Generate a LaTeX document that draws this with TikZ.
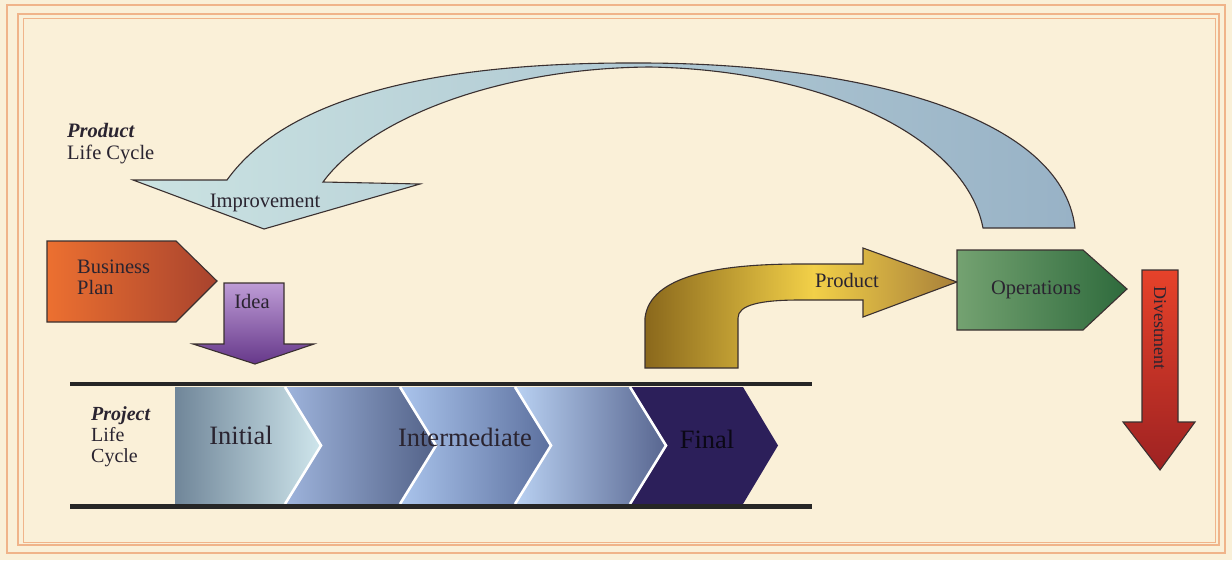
\documentclass[tikz,border=0pt]{standalone}
\usepackage{fontspec}
\setmainfont{Liberation Serif}
\definecolor{bgc}{HTML}{FAF0D8}
\definecolor{framec}{HTML}{F0B48A}
\definecolor{outl}{HTML}{3A3030}
\definecolor{txt}{HTML}{2A2430}
\definecolor{impL}{HTML}{CBE3E2}
\definecolor{impR}{HTML}{98B2C6}
\definecolor{bpL}{HTML}{EC7030}
\definecolor{bpR}{HTML}{A8432E}
\definecolor{ideaT}{HTML}{BE9CD6}
\definecolor{ideaB}{HTML}{66388A}
\definecolor{goldL}{HTML}{8A681C}
\definecolor{goldM}{HTML}{F2D048}
\definecolor{goldR}{HTML}{A8803A}
\definecolor{opL}{HTML}{74A271}
\definecolor{opR}{HTML}{2E6A3C}
\definecolor{divT}{HTML}{E6422A}
\definecolor{divB}{HTML}{9E2222}
\definecolor{chAL}{HTML}{708699}
\definecolor{chAR}{HTML}{CFE6EC}
\definecolor{chBL}{HTML}{9EB4DC}
\definecolor{chBR}{HTML}{536288}
\definecolor{chCL}{HTML}{AAC4EC}
\definecolor{chCR}{HTML}{5C709E}
\definecolor{chDL}{HTML}{B9D1F2}
\definecolor{chDR}{HTML}{586690}
\definecolor{chE}{HTML}{2C1F5A}
\pgfdeclarehorizontalshading{goldshade}{100bp}{color(0bp)=(goldL); color(25bp)=(goldL); color(52bp)=(goldM); color(75bp)=(goldR); color(100bp)=(goldR)}
\begin{document}
\begin{tikzpicture}[x=1pt,y=-1pt,
  shapeline/.style={draw=outl,line width=1.1pt,line join=miter},
  lbl/.style={font=\fontsize{20.5}{23}\selectfont,text=txt,inner sep=0pt},
  biglbl/.style={font=\fontsize{26.5}{30}\selectfont,text=txt,inner sep=0pt},
  framebox/.style={draw=framec}]
\useasboundingbox (0,0) rectangle (1232,560);
\fill[bgc] (0,0) rectangle (1232,560);
% frame
\draw[framebox,line width=2.4pt] (7,5) rectangle (1225,553);
\draw[framebox,line width=1.4pt] (18,14) rectangle (1219,545);
\draw[framebox,line width=0.5pt] (23,18) rectangle (1215,542);

% left titles
\node[lbl,anchor=base west,font=\fontsize{20.5}{23}\selectfont\bfseries\itshape] (prodtitle) at (67,137) {Product};
\node[lbl,anchor=base west] (prodlc) at (67,159) {Life Cycle};

% big curved improvement arrow
\path[shapeline,left color=impL,right color=impR]
  (227,180) .. controls (290,92) and (450,62) .. (640,63)
  .. controls (850,63) and (1062,112) .. (1075,228)
  -- (983,228)
  .. controls (965,135) and (820,70) .. (650,67)
  .. controls (500,68) and (370,118) .. (323,182)
  -- (420,184) -- (264,229) -- (133,180) -- cycle;
\node[lbl,anchor=base] (improve) at (265,207) {Improvement};

% business plan
\path[shapeline,left color=bpL,right color=bpR]
  (47,241) -- (176,241) -- (217,281) -- (176,322) -- (47,322) -- cycle;
\node[lbl,anchor=base west] (bp1) at (77,273) {Business};
\node[lbl,anchor=base west] (bp2) at (77,294) {Plan};

% idea arrow
\path[shapeline,top color=ideaT,bottom color=ideaB]
  (224,283) -- (284,283) -- (284,344) -- (314,344) -- (255,364) -- (193,344) -- (224,344) -- cycle;
\node[lbl,anchor=base] (idea) at (252,308) {Idea};

% project life cycle band
\path[left color=chAL,right color=chAR]
  (175,387) -- (285,387) -- (321,445.5) -- (285,504) -- (175,504) -- cycle;
\path[left color=chBL,right color=chBR]
  (285,387) -- (400,387) -- (436,445.5) -- (400,504) -- (285,504) -- (321,445.5) -- cycle;
\path[left color=chCL,right color=chCR]
  (400,387) -- (515,387) -- (551,445.5) -- (515,504) -- (400,504) -- (436,445.5) -- cycle;
\path[left color=chDL,right color=chDR]
  (515,387) -- (630,387) -- (666,445.5) -- (630,504) -- (515,504) -- (551,445.5) -- cycle;
\fill[chE]
  (630,387) -- (743,387) -- (778,445.5) -- (743,504) -- (630,504) -- (666,445.5) -- cycle;
\foreach \xa/\xb in {285/321,400/436,515/551,630/666}
  \draw[white,line width=2.6pt] (\xa,387) -- (\xb,445.5) -- (\xa,504);
\draw[black!85,line width=4.6pt] (70,384) -- (812,384);
\draw[black!85,line width=4.6pt] (70,506.5) -- (812,506.5);
\node[lbl,anchor=base west,font=\fontsize{20}{22}\selectfont\bfseries\itshape] (pj1) at (91,420) {Project};
\node[lbl,anchor=base west,font=\fontsize{20}{22}\selectfont] (pj2) at (91,441) {Life};
\node[lbl,anchor=base west,font=\fontsize{20}{22}\selectfont] (pj3) at (91,462) {Cycle};
\node[biglbl,anchor=base] (initial) at (241,444) {Initial};
\node[biglbl,anchor=base] (interm) at (465,446) {Intermediate};
\node[biglbl,anchor=base,text=black!75!chE] (final) at (707,448) {Final};

% product arrow
\path[shapeline,shading=goldshade]
  (645,368) -- (645,318) .. controls (650,275) and (720,264) .. (800,264)
  -- (863,264) -- (863,248) -- (957,282) -- (863,317) -- (863,300) -- (800,300)
  .. controls (760,300) and (738,305) .. (738,318) -- (738,368) -- cycle;
\node[lbl,anchor=base] (product) at (847,287) {Product};

% operations
\path[shapeline,left color=opL,right color=opR]
  (957,250) -- (1083,250) -- (1127,289) -- (1083,330) -- (957,330) -- cycle;
\node[lbl,anchor=base] (oper) at (1036,294) {Operations};

% divestment
\path[shapeline,top color=divT,bottom color=divB]
  (1142,270) -- (1178,270) -- (1178,422) -- (1195,422) -- (1160,470) -- (1123,422) -- (1142,422) -- cycle;
\node[lbl,font=\fontsize{18}{20}\selectfont,rotate=-90] (divest) at (1160,328) {Divestment};
\end{tikzpicture}
\end{document}
